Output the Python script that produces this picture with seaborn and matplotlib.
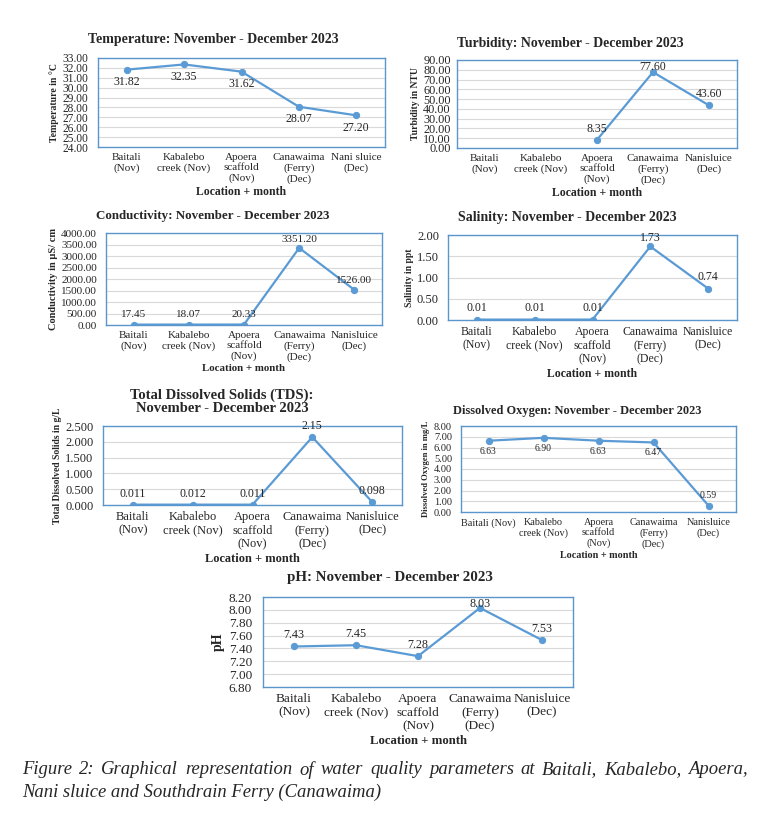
import matplotlib
matplotlib.use("Agg")
import numpy as np
import matplotlib.pyplot as plt
import seaborn as sns

# Data
locations = [
    "Baitali\n(Nov)", "Kabalebo\ncreek (Nov)", "Apoera\nscaffold\n(Nov)",
    "Canawaima\n(Ferry)\n(Dec)", "Nanisluice\n(Dec)"
]
locations_temp = [
    "Baitali\n(Nov)", "Kabalebo\ncreek (Nov)", "Apoera\nscaffold\n(Nov)",
    "Canawaima\n(Ferry)\n(Dec)", "Nani sluice\n(Dec)"
]
locations_do = [
    "Baitali (Nov)", "Kabalebo\ncreek (Nov)", "Apoera\nscaffold\n(Nov)",
    "Canawaima\n(Ferry)\n(Dec)", "Nanisluice\n(Dec)"
]

temperature = [31.82, 32.35, 31.62, 28.07, 27.20]
turbidity = [np.nan, np.nan, 8.35, 77.60, 43.60]
conductivity = [17.45, 18.07, 20.33, 3351.20, 1526.00]
salinity = [0.01, 0.01, 0.01, 1.73, 0.74]
tds = [0.011, 0.012, 0.011, 2.15, 0.098]
dissolved_oxygen = [6.63, 6.90, 6.63, 6.47, 0.59]
ph = [7.43, 7.45, 7.28, 8.03, 7.53]

W, H = 768, 831
BLUE = "#5B9BD5"
FRAME = "#5A96CC"
GRID = "#D9D9D9"

sns.set_theme(style="white")
plt.rcParams["font.family"] = ["Liberation Serif", "DejaVu Serif"]
plt.rcParams["axes.unicode_minus"] = False

fig = plt.figure(figsize=(W / 100, H / 100), dpi=100)


def px_box(left, top, right, bottom):
    return [left / W, 1 - bottom / H, (right - left) / W, (bottom - top) / H]


def fig_text(x, y, text, **kw):
    return fig.text(x / W, 1 - y / H, text, **kw)


# font sizes per panel: title, y ticks, data labels, x ticks, x label, y label
def draw_panel(box, values, title, title_xy, ylabel, yticks, fmt, offsets,
               sizes, tick_labels=locations, ypad=6.5, tick_fmt="{:.2f}"):
    s_title, s_yt, s_data, s_xt, s_xl, s_yl = sizes
    ax = fig.add_axes(px_box(*box))
    pos = np.arange(len(values))

    # Line with markers
    sns.lineplot(
        x=pos, y=values, ax=ax,
        color=BLUE, linewidth=1.6,
        marker="o", markersize=4.5, markeredgecolor=BLUE
    )

    # Data labels
    for x, v, off in zip(pos, values, offsets):
        if np.isnan(v):
            continue
        ax.annotate(
            fmt(v), (x, v), xytext=(0, off), textcoords="offset points",
            ha="center", va="center", fontsize=s_data, color="#262626"
        )

    ax.set_xlim(-0.5, len(values) - 0.5)
    ax.set_ylim(yticks[0], yticks[-1])
    ax.set_yticks(yticks)
    ax.set_yticklabels([tick_fmt.format(t) for t in yticks], fontsize=s_yt)
    ax.set_xticks(pos)
    ax.set_xticklabels(tick_labels, fontsize=s_xt, linespacing=1.15)
    ax.tick_params(axis="x", length=0, pad=4.5)
    ax.tick_params(axis="y", length=0, pad=ypad)
    ax.grid(axis="y", color=GRID, linewidth=0.8)
    ax.set_axisbelow(True)
    for s in ax.spines.values():
        s.set_color(FRAME)
        s.set_linewidth(1.0)

    ax.set_xlabel("Location + month", fontsize=s_xl, fontweight="bold", labelpad=2)
    ax.set_ylabel(ylabel, fontsize=s_yl, fontweight="bold", labelpad=2.5)

    fig_text(title_xy[0], title_xy[1], title, ha="center", va="center",
             fontsize=s_title, fontweight="bold", linespacing=1.0)
    return ax


two = lambda v: f"{v:.2f}"

draw_panel((98, 58, 385, 147), temperature,
           "Temperature: November - December 2023", (213, 39),
           "Temperature in °C", np.arange(24, 33.5, 1), two,
           [-9, -9, -9, -9, -9], (10, 8.3, 8.6, 8, 8.5, 7), ypad=7,
           tick_labels=locations_temp)

draw_panel((457, 60, 737, 148), turbidity,
           "Turbidity: November - December 2023", (570, 43),
           "Turbidity in NTU", np.arange(0, 95, 10), two,
           [8, 8, 8, 4, 8], (9.9, 8.8, 8.6, 8, 8.5, 6.9), ypad=4.5)

draw_panel((106, 233, 382, 325), conductivity,
           "Conductivity: November - December 2023", (213, 216),
           "Conductivity in µS/ cm", np.arange(0, 4001, 500), two,
           [7, 7, 7, 6, 7], (9.4, 8, 8, 8, 7.8, 7.5))

draw_panel((448, 235, 737, 320), salinity,
           "Salinity: November - December 2023", (567, 217),
           "Salinity in ppt", np.arange(0, 2.01, 0.5), two,
           [8, 8, 8, 6, 8], (10, 9, 8.6, 8.5, 8.5, 6.9))

draw_panel((103, 426, 402, 505), tds,
           "Total Dissolved Solids (TDS):\nNovember - December 2023", (222, 402),
           "Total Dissolved Solids in g/L", np.arange(0, 2.51, 0.5),
           lambda v: f"{v:g}", [8, 8, 8, 8, 8], (10.5, 9, 8.6, 9, 8.9, 6.9),
           ypad=7, tick_fmt="{:.3f}")

draw_panel((461, 426, 736, 512), dissolved_oxygen,
           "Dissolved Oxygen: November - December 2023", (577, 411),
           "Dissolved Oxygen in mg/L", np.arange(0, 8.01, 1), two,
           [-7.5, -7.5, -7.5, -7.5, 7.5], (8.9, 7.5, 7, 7.4, 7.3, 6.2),
           tick_labels=locations_do)

draw_panel((263, 597, 573, 687), ph,
           "pH: November - December 2023", (390, 578),
           "pH", np.arange(6.8, 8.21, 0.2), two,
           [8, 8, 8, 3, 8], (10.8, 9.5, 8.7, 9.6, 9.2, 10), ypad=8)

# Caption (first line justified)
cap_style = dict(ha="left", va="center", fontsize=13.4, fontstyle="italic")
line1 = "Figure 2: Graphical representation of water quality parameters at Baitali, Kabalebo, Apoera,"
words = line1.split()
renderer = fig.canvas.get_renderer()
texts = [fig_text(22, 770, w, **cap_style) for w in words]
widths = [t.get_window_extent(renderer).width for t in texts]
gap = (748 - 22 - sum(widths)) / (len(words) - 1)
x = 22
for t, w in zip(texts, widths):
    t.set_x(x / W)
    x += w + gap
fig_text(22, 792, "Nani sluice and Southdrain Ferry (Canawaima)", **cap_style)

fig.savefig("out.png", dpi=100)
